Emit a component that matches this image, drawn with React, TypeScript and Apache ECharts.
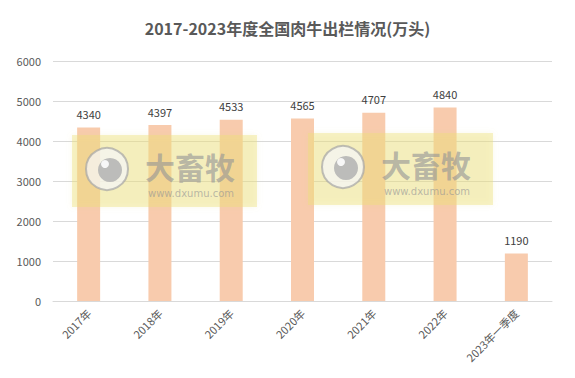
import React, { useEffect, useRef } from "react";
import * as echarts from "echarts";

const categories = ["2017年", "2018年", "2019年", "2020年", "2021年", "2022年", "2023年一季度"];
const values = [4340, 4397, 4533, 4565, 4707, 4840, 1190];
const titleText = "2017-2023年度全国肉牛出栏情况(万头)";

const FONT = '"Noto Sans CJK SC", "Open Sans", sans-serif';

function watermark(x: number, y: number) {
  const Z = 100;
  return {
    type: "group",
    x,
    y,
    z: Z,
    children: [
      {
        type: "rect",
        z: Z,
        shape: { x: 0, y: 0, width: 185, height: 72 },
        style: {
          fill: "rgba(238,226,120,0.4)",
          shadowBlur: 6,
          shadowColor: "rgba(220,210,120,0.4)",
        },
      },
      {
        type: "circle",
        z: Z + 1,
        shape: { cx: 35, cy: 34, r: 21 },
        style: { fill: "rgba(245,245,245,0.75)", stroke: "rgba(165,165,165,0.7)", lineWidth: 2 },
      },
      {
        type: "circle",
        z: Z + 2,
        shape: { cx: 38, cy: 35, r: 12 },
        style: { fill: "rgba(178,178,178,0.85)" },
      },
      {
        type: "circle",
        z: Z + 3,
        shape: { cx: 33, cy: 29, r: 4 },
        style: { fill: "rgba(250,250,250,0.95)" },
      },
      {
        type: "text",
        z: Z + 1,
        x: 118,
        y: 31,
        style: {
          text: "大畜牧",
          font: `bold 30px ${FONT}`,
          fill: "rgba(150,150,150,0.65)",
          align: "center",
          verticalAlign: "middle",
        },
      },
      {
        type: "text",
        z: Z + 1,
        x: 119,
        y: 58,
        style: {
          text: "www.dxumu.com",
          font: `10px "DejaVu Sans", sans-serif`,
          fill: "rgba(150,150,150,0.65)",
          align: "center",
          verticalAlign: "middle",
        },
      },
    ],
  };
}

export default function App() {
  const ref = useRef<HTMLDivElement>(null);
  useEffect(() => {
    if (!ref.current) return;
    const chart = echarts.init(ref.current, undefined, { renderer: "svg" });
    chart.setOption({
      animation: false,
      backgroundColor: "#ffffff",
      title: {
        text: titleText,
        left: "center",
        top: 15,
        textStyle: { fontFamily: FONT, fontSize: 16, fontWeight: "bold", color: "#595959" },
      },
      grid: { left: 53, right: 23, top: 61, bottom: 77 },
      xAxis: {
        type: "category",
        data: categories,
        axisLine: { lineStyle: { color: "#d9d9d9" } },
        axisTick: { show: false },
        axisLabel: {
          rotate: 45,
          interval: 0,
          color: "#595959",
          fontSize: 11,
          fontFamily: FONT,
          margin: 10,
        },
      },
      yAxis: {
        type: "value",
        min: 0,
        max: 6000,
        interval: 1000,
        axisLine: { show: false },
        axisTick: { show: false },
        splitLine: { lineStyle: { color: "#d9d9d9" } },
        axisLabel: {
          color: "#595959",
          fontSize: 11,
          fontFamily: FONT,
          margin: 12,
          formatter: (v: number) => String(v),
        },
      },
      series: [
        {
          type: "bar",
          data: values,
          barWidth: 23,
          itemStyle: { color: "#f8cbad" },
          label: {
            show: true,
            position: "top",
            distance: 8,
            color: "#404040",
            fontSize: 11,
            fontFamily: FONT,
          },
        },
      ],
      graphic: [watermark(72, 135), watermark(308, 133)],
    });
    return () => chart.dispose();
  }, []);
  return <div ref={ref} style={{ width: 575, height: 378, margin: -8 }} />;
}
